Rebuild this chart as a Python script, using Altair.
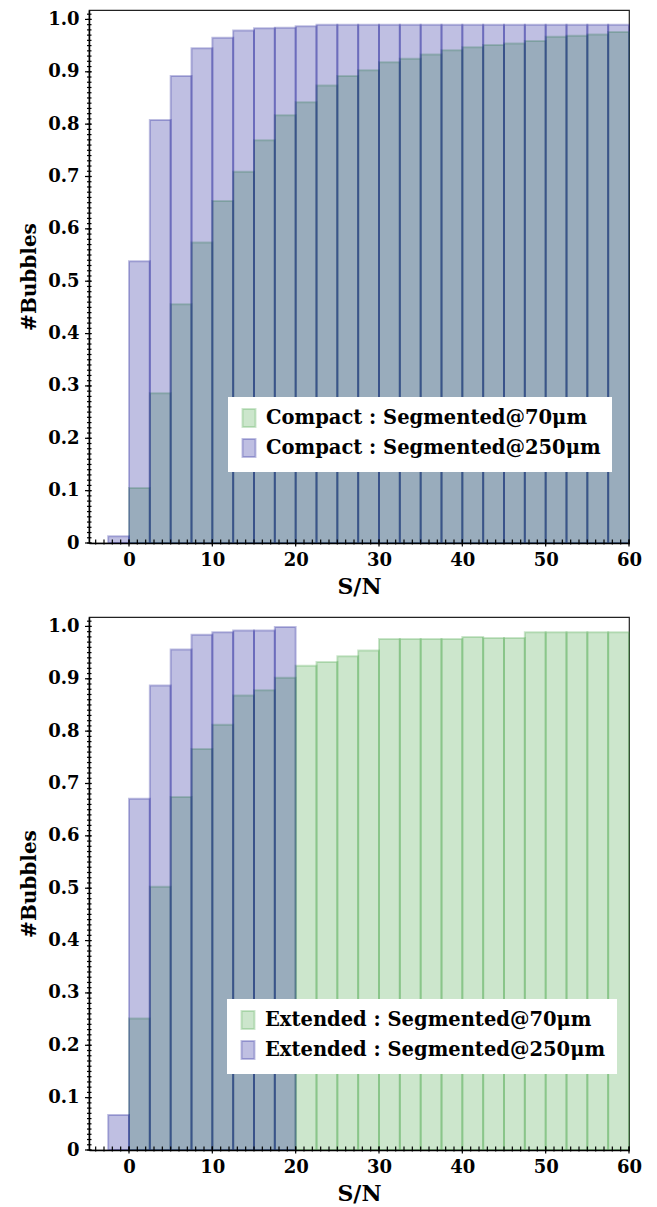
import altair as alt
import pandas as pd

# ---------------- data ----------------
bin_lo = [-2.5, 0, 2.5, 5, 7.5, 10, 12.5, 15, 17.5, 20, 22.5, 25, 27.5, 30,
          32.5, 35, 37.5, 40, 42.5, 45, 47.5, 50, 52.5, 55, 57.5]
bin_w = 2.5

# top panel (Compact)
top_70_start = 0
top_70 = [0.105, 0.286, 0.456, 0.574, 0.653, 0.709, 0.769, 0.817, 0.842, 0.874,
          0.892, 0.903, 0.918, 0.925, 0.933, 0.941, 0.947, 0.951, 0.954, 0.959,
          0.967, 0.969, 0.971, 0.976]
top_250_start = -2.5
top_250 = [0.013, 0.538, 0.808, 0.892, 0.945, 0.965, 0.979, 0.983, 0.984, 0.987,
           0.990, 0.990, 0.990, 0.990, 0.990, 0.990, 0.990, 0.990, 0.990, 0.990,
           0.990, 0.990, 0.990, 0.990, 0.990]

# bottom panel (Extended)
bot_70_start = 0
bot_70 = [0.251, 0.503, 0.674, 0.766, 0.812, 0.868, 0.878, 0.902, 0.925, 0.932,
          0.943, 0.954, 0.976, 0.976, 0.976, 0.976, 0.980, 0.978, 0.978, 0.989,
          0.989, 0.989, 0.989, 0.989]
bot_250_start = -2.5
bot_250 = [0.067, 0.671, 0.887, 0.956, 0.984, 0.989, 0.992, 0.992, 0.999]

top_labels = ["Compact : Segmented@70μm", "Compact : Segmented@250μm"]
bot_labels = ["Extended : Segmented@70μm", "Extended : Segmented@250μm"]

x_major = [0, 10, 20, 30, 40, 50, 60]
y_major = [0, 0.1, 0.2, 0.3, 0.4, 0.5, 0.6, 0.7, 0.8, 0.9, 1.0]
x_minor = [v for v in range(-4, 61)]
y_minor = [round(i * 0.01, 2) for i in range(0, 102)]

colors = ["rgba(51,155,51,0.25)", "rgba(0,0,139,0.25)"]
FONT = "DejaVu Serif"
W, H = 540, 533

xs = alt.Scale(domain=[-4.8, 60], nice=False, zero=False)
ys = alt.Scale(domain=[0, 1.018], nice=False, zero=False)

xaxis = alt.Axis(values=x_major, ticks=False, grid=False, domainColor="black",
                 domainWidth=1.5, labelFont=FONT, labelFontSize=18,
                 labelFontWeight="bold", labelColor="black", labelPadding=8,
                 labelFlush=False, labelOverlap=False,
                 title="S/N", titleFont=FONT, titleFontSize=22,
                 titleFontWeight="bold", titleColor="black", titlePadding=7,
                 zindex=1)
yaxis = alt.Axis(values=y_major, ticks=False, grid=False, domainColor="black",
                 domainWidth=1.5, labelFont=FONT, labelFontSize=18,
                 labelFontWeight="bold", labelColor="black", labelPadding=10,
                 labelFlush=False, labelOverlap=False,
                 labelExpr="datum.value == 0 ? '0' : format(datum.value, '.1f')",
                 title="#Bubbles", titleFont=FONT, titleFontSize=20,
                 titleFontWeight="bold", titleColor="black", titlePadding=8,
                 zindex=1)


def series_df(start, vals, label):
    i0 = bin_lo.index(start)
    lo = bin_lo[i0:i0 + len(vals)]
    return pd.DataFrame({"lo": lo, "hi": [l + bin_w for l in lo], "v": vals, "series": label})


def panel(s70, v70, s250, v250, labels, lx, ly):
    df = pd.concat([series_df(s70, v70, labels[0]), series_df(s250, v250, labels[1])],
                   ignore_index=True)
    df["order"] = range(len(df))
    cscale = alt.Scale(domain=labels, range=colors)
    leg = alt.Legend(
        title=None, orient="none", legendX=lx, legendY=ly,
        fillColor="white", padding=11, rowPadding=4,
        labelFont=FONT, labelFontSize=19.5, labelFontWeight="bold", labelColor="black",
        labelOffset=7, labelLimit=600,
        symbolType="M-0.72,-1L0.72,-1L0.72,1L-0.72,1Z", symbolSize=324,
        symbolStrokeWidth=2,
    )
    bars = alt.Chart(df).mark_rect(strokeWidth=2).encode(
        x=alt.X("lo:Q", scale=xs, axis=xaxis),
        x2="hi:Q",
        y=alt.Y("v:Q", scale=ys, axis=yaxis),
        y2=alt.datum(0),
        fill=alt.Fill("series:N", scale=cscale, legend=leg),
        stroke=alt.Stroke("series:N", scale=cscale, legend=leg),
        order=alt.Order("order:Q"),
    )
    ymin = alt.Chart(pd.DataFrame({"v": y_minor})).mark_rule(
        color="black", strokeWidth=1.2).encode(
        y=alt.Y("v:Q", scale=ys, axis=yaxis), x=alt.value(-2), x2=alt.value(2.5))
    ymaj = alt.Chart(pd.DataFrame({"v": y_major})).mark_rule(
        color="black", strokeWidth=1.2).encode(
        y=alt.Y("v:Q", scale=ys, axis=yaxis), x=alt.value(-4), x2=alt.value(2.5))
    xmin = alt.Chart(pd.DataFrame({"lo": x_minor})).mark_rule(
        color="black", strokeWidth=1.2).encode(
        x=alt.X("lo:Q", scale=xs, axis=xaxis), y=alt.value(H - 3.5), y2=alt.value(H + 1.5))
    xmaj = alt.Chart(pd.DataFrame({"lo": x_major})).mark_rule(
        color="black", strokeWidth=1.2).encode(
        x=alt.X("lo:Q", scale=xs, axis=xaxis), y=alt.value(H - 3.5), y2=alt.value(H + 3.5))
    return alt.layer(bars, ymin, ymaj, xmin, xmaj).properties(width=W, height=H)


top = panel(top_70_start, top_70, top_250_start, top_250, top_labels, 139, 387)
bot = panel(bot_70_start, bot_70, bot_250_start, bot_250, bot_labels, 138, 382)

chart = alt.vconcat(top, bot, spacing=18).resolve_scale(
    fill="independent", stroke="independent").resolve_legend(
    fill="independent", stroke="independent").properties(
    padding={"left": 19, "top": 9, "right": 5, "bottom": 5},
    background="white",
).configure_view(stroke="#222", strokeWidth=1.2)

chart.save("out.html", embed_options={"renderer": "svg", "actions": False})
